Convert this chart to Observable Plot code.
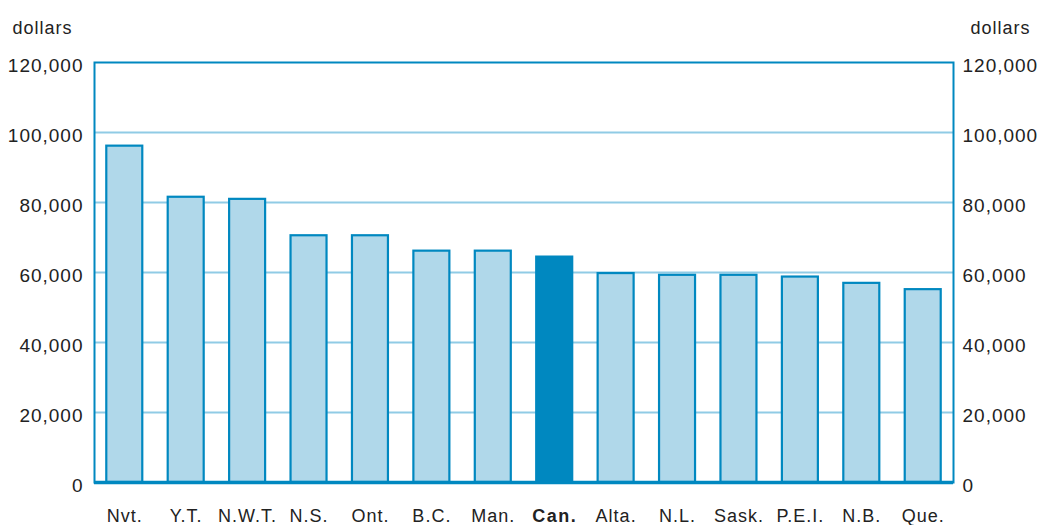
<!DOCTYPE html>
<html>
<head>
<meta charset="utf-8">
<script src="https://cdn.jsdelivr.net/npm/d3@7"></script>
<script src="https://cdn.jsdelivr.net/npm/@observablehq/plot@0.6"></script>
<style>
  html, body { margin: 0; padding: 0; background: #fff; }
  #chart svg { display: block; }
  #chart svg text { letter-spacing: 1px; }
  #chart svg g.bold text { letter-spacing: 1.5px; }
</style>
</head>
<body>
<div id="chart"></div>
<script>
const provinces = ["Nvt.", "Y.T.", "N.W.T.", "N.S.", "Ont.", "B.C.", "Man.", "Can.", "Alta.", "N.L.", "Sask.", "P.E.I.", "N.B.", "Que."];
const incomes = [96100, 81500, 80900, 70500, 70500, 66100, 66100, 64400, 59700, 59200, 59200, 58700, 56900, 55100];
const yTicks = [0, 20000, 40000, 60000, 80000, 100000, 120000];
const gridTicks = [20000, 40000, 60000, 80000, 100000];
const unitLabel = "dollars";
const highlight = "Can.";

const data = provinces.map((p, i) => ({prov: p, value: incomes[i]}));

const dark = "#0088c0";
const light = "#b0d8ea";
const gridColor = "#90cbe5";
const textColor = "#222";
const font = "Liberation Sans, Arial, sans-serif";
const fmt = d3.format(",");

const chart = Plot.plot({
  width: 1042,
  height: 525,
  marginLeft: 94,
  marginRight: 89,
  marginTop: 62,
  marginBottom: 43,
  style: {fontFamily: font, fontSize: "18px", color: textColor, background: "#fff"},
  x: {domain: provinces, paddingInner: 0.414, paddingOuter: 0.2, round: false, label: null},
  y: {domain: [0, 120000], label: null},
  color: {type: "identity"},
  marks: [
    Plot.ruleY(gridTicks, {stroke: gridColor, strokeWidth: 2}),
    Plot.barY(data, {x: "prov", y: "value", fill: d => d.prov === highlight ? dark : light, stroke: dark, strokeWidth: 2.2}),
    Plot.frame({stroke: dark, strokeWidth: 2}),
    Plot.ruleY([0], {stroke: dark, strokeWidth: 3.5}),
    Plot.axisY(yTicks, {anchor: "left", tickSize: 0, tickPadding: 11, tickFormat: fmt, fontSize: 19, dy: 3, fill: textColor, label: null}),
    Plot.axisY(yTicks, {anchor: "right", tickSize: 0, tickPadding: 9, tickFormat: fmt, fontSize: 19, dy: 3, fill: textColor, label: null}),
    Plot.axisX(provinces.filter(p => p !== highlight), {anchor: "bottom", tickSize: 0, tickPadding: 27, fontSize: 18, fill: textColor, label: null}),
    Plot.axisX([highlight], {anchor: "bottom", tickSize: 0, tickPadding: 27, fontSize: 18, fontWeight: "bold", fill: textColor, label: null, className: "bold"}),
    Plot.text([unitLabel], {frameAnchor: "top-left", text: d => d, dx: -82, dy: -41, textAnchor: "start", fontSize: 18, fill: textColor}),
    Plot.text([unitLabel], {frameAnchor: "top-right", text: d => d, dx: 77, dy: -41, textAnchor: "end", fontSize: 18, fill: textColor})
  ]
});
document.getElementById("chart").appendChild(chart);
</script>
</body>
</html>
